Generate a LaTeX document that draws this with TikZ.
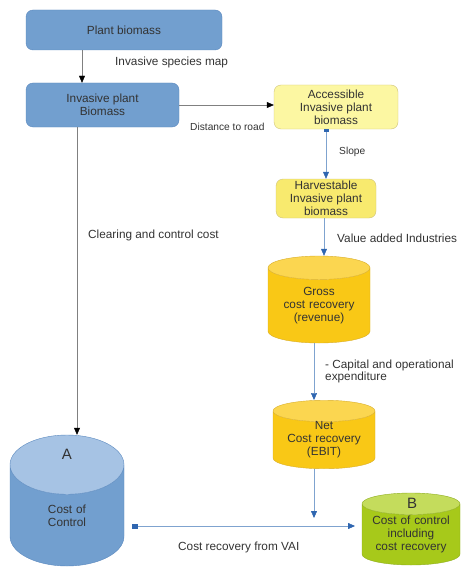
\documentclass[tikz,border=0pt]{standalone}
\usepackage{fontspec}
\setmainfont{Liberation Sans}
\usetikzlibrary{arrows.meta,shapes.geometric}
\definecolor{txt}{HTML}{333333}
\definecolor{boxblue}{HTML}{729FCF}
\definecolor{blueline}{HTML}{5A88BE}
\definecolor{topblue}{HTML}{A6C3E4}
\definecolor{paleyel}{HTML}{FCF7A2}
\definecolor{harvyel}{HTML}{F8EA6E}
\definecolor{yelline}{HTML}{CFC37A}
\definecolor{gold}{HTML}{F9C816}
\definecolor{topgold}{HTML}{FBD650}
\definecolor{goldline}{HTML}{D9AE2A}
\definecolor{lime}{HTML}{A7C91A}
\definecolor{toplime}{HTML}{C4DC5C}
\definecolor{limeline}{HTML}{8FAE20}
\definecolor{flowline}{HTML}{7FA3CF}
\definecolor{tipblue}{HTML}{2F66B0}
\begin{document}
\begin{tikzpicture}[x=1pt,y=-1pt,
  font=\fontsize{11.8}{12.8}\selectfont,
  box/.style={draw=#1, rounded corners=7pt, align=center, inner sep=0pt, text=txt},
  barrel/.style={cylinder, shape border rotate=90, draw=#1, cylinder uses custom fill,
    anchor=shape center, align=center, inner sep=0pt, text=txt},
  note/.style={anchor=west, inner sep=0pt, align=left, text=txt},
  blk/.style={draw=gray, -{Triangle[length=7pt,width=6pt,color=black]}},
  blu/.style={draw=flowline, -{Triangle[length=7pt,width=6pt,color=tipblue]}}]
\useasboundingbox (0,0) rectangle (462,583);

% boxes
\node[box=blueline, fill=boxblue, minimum width=196, minimum height=40] (plant) at (124,30) {Plant biomass};
\node[box=blueline, fill=boxblue, minimum width=153, minimum height=44] (inv) at (102.5,105) {Invasive plant\\Biomass};
\node[box=yelline, fill=paleyel, minimum width=124, minimum height=44] (acc) at (336,107) {Accessible\\Invasive plant\\biomass};
\node[box=yelline, fill=harvyel, minimum width=100, minimum height=39] (harv) at (326,198.5) {Harvestable\\Invasive plant\\biomass};

% cylinders
\node[barrel=goldline, cylinder body fill=gold, cylinder end fill=topgold, aspect=0.23,
  text width=102, minimum height=87] (gross) at (319,299.5) {Gross\\cost recovery\\(revenue)};
\node[barrel=goldline, cylinder body fill=gold, cylinder end fill=topgold, aspect=0.21,
  text width=102, minimum height=65] (net) at (324,434.5) {Net\\Cost recovery\\(EBIT)};
\node[barrel=blueline, cylinder body fill=boxblue, cylinder end fill=topblue, aspect=0.52,
  text width=114, minimum height=131] (ctrlA) at (67,500.5) {Cost of\\Control};
\node[barrel=limeline, cylinder body fill=lime, cylinder end fill=toplime, aspect=0.22,
  text width=98, minimum height=72] (ctrlB) at (411,529) {Cost of control\\including\\cost recovery};
\node[text=txt, font=\fontsize{15}{15}\selectfont] (lblA) at (67,454) {A};
\node[text=txt, font=\fontsize{15}{15}\selectfont] (lblB) at (412,503) {B};

% labels
\node[note] (mapl) at (115,62) {Invasive species map};
\node[note, font=\fontsize{10.2}{11}\selectfont] (roadl) at (190,127) {Distance to road};
\node[note, font=\fontsize{10.2}{11}\selectfont] (slopel) at (339,152) {Slope};
\node[note] (vail) at (337,238) {Value added Industries};
\node[note] (capexl) at (325,371.5) {- Capital and operational\\expenditure};
\node[note] (clearl) at (88,235) {Clearing and control cost};
\node[note] (recl) at (178,547) {Cost recovery from VAI};

% connectors
\coordinate (pm) at (82,0);
\coordinate (lx) at (77,0);
\coordinate (hx) at (324,0);
\coordinate (gx) at (314,0);
\coordinate (netend) at (314,518);
\coordinate (vaistart) at (132,526);
\coordinate (vaiend) at (355,526);
\draw[blk] (plant.south -| pm) -- (inv.north -| pm);
\draw[blk] (inv.east) -- (inv.east -| acc.west);
\draw[blk] (inv.south -| lx) -- (ctrlA.north -| lx);
\draw[blu, {Square[length=2pt,width=5pt,color=tipblue]}-{Triangle[length=7pt,width=6pt,color=tipblue]}]
  (acc.south -| harv.north) -- (harv.north);
\draw[blu] (harv.south -| hx) -- (gross.north -| hx);
\draw[blu] (gross.south -| gx) -- (net.north -| gx);
\draw[blu] (net.south -| gx) -- (netend);
\draw[blu, {Square[length=5pt,width=5pt,color=tipblue]}-{Triangle[length=7pt,width=6pt,color=tipblue]}]
  (vaistart) -- (vaiend);
\end{tikzpicture}
\end{document}
